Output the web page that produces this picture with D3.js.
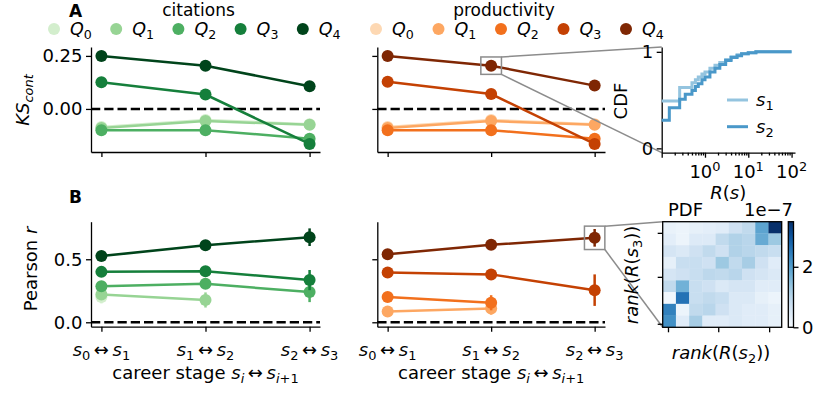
<!DOCTYPE html>
<html><head><meta charset="utf-8">
<script src="https://cdn.jsdelivr.net/npm/d3@7"></script>
<style>body{margin:0;background:#fff} svg{display:block} text{font-family:"DejaVu Sans",sans-serif;fill:#000}</style>
</head><body><svg id="c" width="831" height="398"></svg>
<script>
// ---------------- DATA ----------------
const stages = [0, 1, 2];
const stageLabels = [["0","1"],["1","2"],["2","3"]];
const quantiles = ["0","1","2","3","4"];
// KS_cont, rows = Q0..Q4, cols = stages
const ksCitations = [
  [-0.085, -0.052, -0.072],
  [-0.090, -0.057, -0.075],
  [-0.100, -0.100, -0.140],
  [0.126, 0.068, -0.165],
  [0.250, 0.204, 0.107]
];
const ksProductivity = [
  [-0.085, -0.052, -0.072],
  [-0.090, -0.057, -0.075],
  [-0.100, -0.100, -0.140],
  [0.128, 0.070, -0.165],
  [0.250, 0.204, 0.110]
];
// Pearson r with error half-widths
const rCitations = [
  [0.200, null, null],
  [0.220, 0.177, null],
  [0.285, 0.305, 0.240],
  [0.400, 0.405, 0.335],
  [0.525, 0.612, 0.675]
];
const rCitationsErr = [
  [0.05, 0, 0],
  [0.03, 0.06, 0],
  [0.03, 0.03, 0.08],
  [0.02, 0.02, 0.08],
  [0.03, 0.03, 0.07]
];
const rProductivity = [
  [null, null, null],
  [0.085, 0.110, null],
  [0.200, 0.155, null],
  [0.395, 0.380, 0.255],
  [0.540, 0.615, 0.670]
];
const rProductivityErr = [
  [0, 0, 0],
  [0.02, 0.05, 0],
  [0.02, 0.06, 0],
  [0.02, 0.02, 0.125],
  [0.02, 0.02, 0.07]
];
const ksTicks = [0, 0.25], ksTickLabels = ["0.00", "0.25"];
const rTicks = [0, 0.5], rTickLabels = ["0.0", "0.5"];
// CDF inset
const cdfX = [0.1, 0.15, 0.26, 0.35, 0.5, 0.6, 0.7, 0.85, 1, 1.3, 1.7, 2.2, 3, 4, 5.5, 7, 10, 15, 25, 50, 100];
const cdfS1 = [0.49, 0.49, 0.63, 0.63, 0.68, 0.71, 0.74, 0.77, 0.79, 0.83, 0.86, 0.89, 0.92, 0.95, 0.97, 0.98, 0.99, 1, 1, 1, 1];
const cdfS2 = [0.29, 0.42, 0.51, 0.56, 0.60, 0.64, 0.67, 0.71, 0.74, 0.79, 0.83, 0.87, 0.91, 0.94, 0.96, 0.98, 0.99, 1, 1, 1, 1];
const cdfXTicks = [1, 10, 100], cdfXTickExp = ["0","1","2"];
// PDF heatmap (x 1e-7), rows top (high rank s3) to bottom, cols left to right (rank s2)
const pdfValues = [
  [0.25, 0.20, 0.30, 0.35, 0.40, 0.70, 0.90, 1.90, 3.49],
  [0.35, 0.20, 0.45, 0.45, 0.90, 1.10, 1.00, 1.80, 1.30],
  [0.60, 0.50, 0.70, 0.90, 0.70, 1.10, 1.00, 0.90, 0.80],
  [0.30, 0.80, 0.80, 0.70, 1.30, 0.90, 1.20, 0.70, 0.40],
  [0.60, 0.70, 0.80, 0.95, 0.90, 1.00, 0.70, 0.60, 0.50],
  [0.90, 1.70, 0.80, 0.70, 0.50, 0.60, 0.60, 0.40, 0.40],
  [0.10, 2.60, 0.80, 0.90, 0.80, 0.50, 0.50, 0.30, 0.20],
  [2.40, 0.20, 0.90, 1.00, 0.70, 0.50, 0.40, 0.40, 0.30],
  [2.20, 0.40, 1.20, 0.40, 0.40, 0.50, 0.40, 0.40, 0.30]
];
const pdfMax = 3.49;
const cbTicks = [0, 2];

// ---------------- HELPERS ----------------
const svg = d3.select("#c");
const FS = 18;
const greens = [0.2, 0.4, 0.6, 0.8, 1.0].map(t => d3.interpolateGreens(t));
const oranges = [0.2, 0.4, 0.6, 0.8, 1.0].map(t => d3.interpolateOranges(t));

function rich(t, parts, fs) {
  let shift = 0;
  parts.forEach(([txt, st]) => {
    const ts = t.append("tspan").text(txt);
    if (st.includes("i")) ts.attr("font-style", "italic");
    if (st.includes("B")) ts.attr("font-weight", "bold");
    const target = st.includes("b") ? fs * 0.24 : st.includes("p") ? -fs * 0.4 : 0;
    if (target !== shift) { ts.attr("dy", target - shift); shift = target; }
    if (st.includes("b") || st.includes("p")) ts.attr("font-size", fs * 0.72);
  });
  return t;
}
function txt(x, y, parts, opts = {}) {
  const fs = opts.fs || FS;
  const t = svg.append("text").attr("x", x).attr("y", y).attr("font-size", fs)
    .attr("text-anchor", opts.anchor || "start");
  if (opts.rot) t.attr("transform", `rotate(${opts.rot},${x},${y})`);
  return rich(t, parts, fs);
}
function styleAxis(s) {
  s.attr("font-size", FS).attr("font-family", "DejaVu Sans");
  s.select(".domain").attr("stroke-width", 1.3);
  s.selectAll(".tick line").attr("stroke-width", 1.3);
}
const ARW = "\u2009↔\u2009";
const stageParts = (a, b) => [["s","i"],[a,"b"],[ARW,""],["s","i"],[b,"b"]];

function panel(x0, x1, yScale, ticks, tickLabels, showYLabels, xLabels) {
  const x = d3.scaleLinear().domain([-0.1, 2.1]).range([x0, x1]);
  const [yb] = yScale.range();
  svg.append("g").attr("transform", `translate(${x0},0)`)
    .call(d3.axisLeft(yScale).tickValues(ticks).tickSize(5).tickSizeOuter(0).tickPadding(3.5)
      .tickFormat((d, i) => showYLabels ? tickLabels[i] : ""))
    .call(styleAxis);
  svg.append("g").attr("transform", `translate(0,${yb})`)
    .call(d3.axisBottom(x).tickValues(stages).tickSize(5).tickSizeOuter(0).tickFormat(""))
    .call(styleAxis);
  if (xLabels) {
    stages.forEach((s, i) => txt(x(s), yb + 29, stageParts(...stageLabels[i]), {anchor: "middle"}));
    txt((x0 + x1) / 2, yb + 52, [["career stage ",""],["s","i"],["i","ib"],[ARW,""],["s","i"],["i","ib"],["+1","b"]], {anchor: "middle"});
  }
  // zero dashed line
  svg.append("line").attr("x1", x0).attr("x2", x1).attr("y1", yScale(0)).attr("y2", yScale(0))
    .attr("stroke", "#000").attr("stroke-width", 2.5).attr("stroke-dasharray", "9.25,4");
  return x;
}
function series(x, y, data, errs, colors) {
  data.forEach((row, q) => {
    const pts = row.map((v, i) => ({s: stages[i], v, e: errs ? errs[q][i] : 0})).filter(d => d.v !== null);
    if (!pts.length) return;
    const g = svg.append("g");
    g.append("path").datum(pts).attr("fill", "none").attr("stroke", colors[q]).attr("stroke-width", 2.5)
      .attr("d", d3.line().x(d => x(d.s)).y(d => y(d.v)));
    g.selectAll("line.err").data(pts.filter(d => d.e > 0)).join("line")
      .attr("x1", d => x(d.s)).attr("x2", d => x(d.s))
      .attr("y1", d => y(d.v - d.e)).attr("y2", d => y(d.v + d.e))
      .attr("stroke", colors[q]).attr("stroke-width", 2.5);
    g.selectAll("circle").data(pts).join("circle")
      .attr("cx", d => x(d.s)).attr("cy", d => y(d.v)).attr("r", 6).attr("fill", colors[q]);
  });
}

// ---------------- MAIN PANELS ----------------
const yA = d3.scaleLinear().domain([-0.203, 0.292]).range([152, 47]);
const yB = d3.scaleLinear().domain([-0.035, 0.798]).range([326.7, 221.7]);

const xAL = panel(91, 320, yA, ksTicks, ksTickLabels, true, false);
const xAR = panel(377.3, 605, yA, ksTicks, ksTickLabels, false, false);
const xBL = panel(91, 320, yB, rTicks, rTickLabels, true, true);
const xBR = panel(377.3, 605, yB, rTicks, rTickLabels, false, true);

series(xAL, yA, ksCitations, null, greens);
series(xAR, yA, ksProductivity, null, oranges);
series(xBL, yB, rCitations, rCitationsErr, greens);
series(xBR, yB, rProductivity, rProductivityErr, oranges);

// axis labels
txt(29, 100, [["KS","i"],["cont","ib"]], {anchor: "middle", rot: -90});
txt(37, 269, [["Pearson ",""],["r","i"]], {anchor: "middle", rot: -90});
txt(75.5, 16.5, [["A","B"]], {anchor: "middle", fs: 17});
txt(75.5, 203, [["B","B"]], {anchor: "middle", fs: 17});

// legends
txt(198.5, 16.3, [["citations",""]], {anchor: "middle", fs: 17});
txt(504, 16.3, [["productivity",""]], {anchor: "middle", fs: 17});
const legG = [54, 116.2, 178.4, 240.6, 302.8];
const legO = [376, 438.5, 501, 563.5, 626];
function legend(xs, colors) {
  xs.forEach((lx, i) => {
    svg.append("circle").attr("cx", lx).attr("cy", 29).attr("r", 6).attr("fill", colors[i]);
    txt(lx + 16, 35, [["Q","i"],[quantiles[i],"b"]], {fs: 17.5});
  });
}
legend(legG, greens);
legend(legO, oranges);

// ---------------- ZOOM MARKERS ----------------
const gray = "#8c8c8c";
function zoomBox(cx, cy, hw, hh, tx, ty1, ty2) {
  svg.append("rect").attr("x", cx - hw).attr("y", cy - hh).attr("width", 2 * hw).attr("height", 2 * hh)
    .attr("fill", "none").attr("stroke", gray).attr("stroke-width", 1.5);
  svg.append("line").attr("x1", cx + hw).attr("y1", cy - hh).attr("x2", tx).attr("y2", ty1).attr("stroke", gray).attr("stroke-width", 1.5);
  svg.append("line").attr("x1", cx + hw).attr("y1", cy + hh).attr("x2", tx).attr("y2", ty2).attr("stroke", gray).attr("stroke-width", 1.5);
}
zoomBox(xAR(1), yA(ksProductivity[4][1]), 10.3, 8.7, 661.7, 47, 152.7);
zoomBox(xBR(2), yB(rProductivity[4][2]), 10.2, 11.7, 662.7, 221.7, 327.3);

// ---------------- CDF INSET ----------------
const xc = d3.scaleLog().domain([0.1, 120]).range([661.7, 795]);
const yc = d3.scaleLinear().domain([-0.045, 1.05]).range([152.7, 47]);
svg.append("g").attr("transform", "translate(661.7,0)")
  .call(d3.axisLeft(yc).tickValues([0, 1]).tickSize(5).tickSizeOuter(0).tickPadding(3.5).tickFormat(d3.format("d")))
  .call(styleAxis);
const minor = [];
[0.1, 1, 10].forEach(b => { for (let k = 2; k <= 9; k++) if (b * k <= 120) minor.push(b * k); });
svg.append("g").attr("transform", "translate(0,152.7)")
  .call(d3.axisBottom(xc).tickValues(minor).tickSize(2.8).tickSizeOuter(0).tickFormat(""))
  .call(styleAxis);
svg.append("g").attr("transform", "translate(0,152.7)")
  .call(d3.axisBottom(xc).tickValues([0.1].concat(cdfXTicks)).tickSize(5).tickSizeOuter(0).tickFormat(""))
  .call(styleAxis).call(s => s.select(".domain").remove());
cdfXTicks.forEach((v, i) => txt(xc(v), 178, [["10",""],[cdfXTickExp[i],"p"]], {anchor: "middle"}));
txt(728.3, 199, [["R","i"],["(",""],["s","i"],[")",""]], {anchor: "middle"});
txt(627, 101, [["CDF",""]], {anchor: "middle", rot: -90});
const cdfColors = ["#94c4df", "#4a98c9"];
[cdfS1, cdfS2].forEach((arr, k) => {
  svg.append("path").datum(cdfX.map((x, i) => [x, arr[i]])).attr("fill", "none")
    .attr("stroke", cdfColors[k]).attr("stroke-width", 3)
    .attr("d", d3.line().x(d => xc(d[0])).y(d => yc(d[1])).curve(d3.curveStepAfter));
});
[["1", 100], ["2", 126.7]].forEach(([s, ly], k) => {
  svg.append("line").attr("x1", 727).attr("x2", 748).attr("y1", ly).attr("y2", ly)
    .attr("stroke", cdfColors[k]).attr("stroke-width", 3);
  txt(756, ly + 6, [["s","i"],[s,"b"]]);
});

// ---------------- HEATMAP INSET ----------------
const hx0 = 662.7, hx1 = 781.7, hy0 = 221.7, hy1 = 327.3;
const bx = d3.scaleBand().domain(d3.range(9)).range([hx0, hx1]);
const by = d3.scaleBand().domain(d3.range(9)).range([hy0, hy1]);
const cscale = v => d3.interpolateBlues(v / pdfMax);
pdfValues.forEach((row, r) => row.forEach((v, c) => {
  svg.append("rect").attr("x", bx(c)).attr("y", by(r)).attr("width", bx.bandwidth() + 0.3)
    .attr("height", by.bandwidth() + 0.3).attr("fill", cscale(v));
}));
svg.append("rect").attr("x", hx0).attr("y", hy0).attr("width", hx1 - hx0).attr("height", hy1 - hy0)
  .attr("fill", "none").attr("stroke", "#000").attr("stroke-width", 1.3);
const hxs = d3.scaleLinear().domain([0, 9]).range([hx0, hx1]);
const hys = d3.scaleLinear().domain([0, 9]).range([hy1, hy0]);
svg.append("g").attr("transform", `translate(0,${hy1})`)
  .call(d3.axisBottom(hxs).tickValues([0.4, 4.2, 8.05]).tickSize(5).tickSizeOuter(0).tickFormat(""))
  .call(styleAxis).call(s => s.select(".domain").remove());
svg.append("g").attr("transform", `translate(${hx0},0)`)
  .call(d3.axisLeft(hys).tickValues([0.3, 4.3, 8.05]).tickSize(5).tickSizeOuter(0).tickFormat(""))
  .call(styleAxis).call(s => s.select(".domain").remove());
txt(721, 359, [["rank","i"],["(",""],["R","i"],["(",""],["s","i"],["2","b"],["))",""]], {anchor: "middle"});
txt(638, 275, [["rank","i"],["(",""],["R","i"],["(",""],["s","i"],["3","b"],["))",""]], {anchor: "middle", rot: -90});
txt(668, 215.5, [["PDF",""]]);
txt(793, 215.5, [["1e−7",""]], {anchor: "end"});
// colorbar
const cbx0 = 788.3, cbx1 = 793.5;
const grad = svg.append("defs").append("linearGradient").attr("id", "cb")
  .attr("x1", 0).attr("y1", 1).attr("x2", 0).attr("y2", 0);
d3.range(0, 1.0001, 0.05).forEach(t => grad.append("stop").attr("offset", t).attr("stop-color", d3.interpolateBlues(t)));
svg.append("rect").attr("x", cbx0).attr("y", hy0).attr("width", cbx1 - cbx0).attr("height", hy1 - hy0)
  .attr("fill", "url(#cb)").attr("stroke", "#000").attr("stroke-width", 1.3);
const cby = d3.scaleLinear().domain([0, pdfMax]).range([hy1, hy0]);
svg.append("g").attr("transform", `translate(${cbx1},0)`)
  .call(d3.axisRight(cby).tickValues(cbTicks).tickSize(5).tickSizeOuter(0).tickPadding(3.5).tickFormat(d3.format("d")))
  .call(styleAxis).call(s => s.select(".domain").remove());
</script></body></html>
